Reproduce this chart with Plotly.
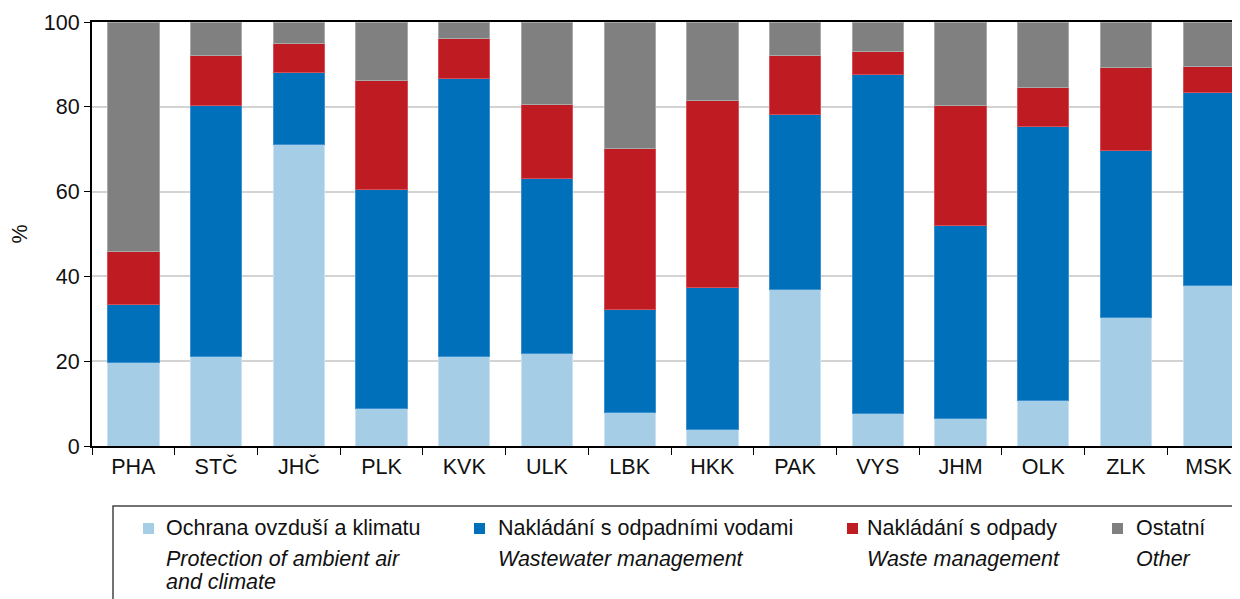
import plotly.graph_objects as go

regions = ["PHA", "STČ", "JHČ", "PLK", "KVK", "ULK", "LBK", "HKK", "PAK", "VYS", "JHM", "OLK", "ZLK", "MSK"]

# shares in %
air = [19.6, 21.1, 71.0, 8.9, 21.0, 21.8, 7.9, 3.9, 37.0, 7.7, 6.6, 10.7, 30.3, 37.9]
wastewater = [13.7, 59.3, 17.2, 51.7, 65.7, 41.3, 24.3, 33.5, 41.2, 80.0, 45.4, 64.7, 39.3, 45.5]
waste = [12.6, 11.6, 6.7, 25.7, 9.4, 17.4, 38.0, 44.0, 13.9, 5.3, 28.4, 9.1, 19.6, 6.0]
other = [54.1, 8.0, 5.1, 13.7, 3.9, 19.5, 29.8, 18.6, 7.9, 7.0, 19.6, 15.5, 10.8, 10.6]

names_cz = ["Ochrana ovzduší a klimatu", "Nakládání s odpadními vodami", "Nakládání s odpady", "Ostatní"]
names_en = [["Protection of ambient air", "and climate"], ["Wastewater management"],
            ["Waste management"], ["Other"]]
colors = ["#a6cde6", "#0070bb", "#be1b22", "#808080"]
edges = ["#c9e1f1", "#3d91d0", "#d6505a", "#a9a9a9"]

fig = go.Figure()
for vals, name, c, e in zip([air, wastewater, waste, other], names_cz, colors, edges):
    fig.add_trace(go.Bar(x=regions, y=vals, name=name, marker_color=c,
                         marker_line=dict(color=e, width=1)))

FONT = "Liberation Sans, Arial, sans-serif"
FS = 21.5
# plot area runs a little past the right edge of the window, as in the original
fig.update_layout(
    barmode="stack", bargap=0.38,
    width=1250, height=599,
    margin=dict(l=84, r=8, t=14, b=161),
    plot_bgcolor="white", paper_bgcolor="white",
    font=dict(family=FONT, size=FS, color="#111"),
    showlegend=False,
)
fig.update_yaxes(range=[0, 100], dtick=20, showgrid=True, gridcolor="#d3d3d3", gridwidth=1.5,
                 showline=True, linecolor="black", linewidth=2, ticks="outside", ticklen=6,
                 tickcolor="black", tickfont=dict(size=FS), automargin=False,
                 title=dict(text="%", font=dict(size=FS), standoff=30))
fig.update_xaxes(showline=True, linecolor="black", linewidth=2, mirror=True, automargin=False,
                 ticks="outside", tickson="boundaries", ticklen=7, tickcolor="black",
                 tickfont=dict(size=FS))

# legend box drawn by hand (two-language entries); positions in page pixels
W, X0 = 1158, 92
H, Y0 = 424, 446
def px(x):
    return (x - X0) / W
def py(y):
    return (Y0 - y) / H

fig.add_shape(type="rect", xref="paper", yref="paper", x0=px(113), x1=1.02, y0=-0.5, y1=py(506),
              line=dict(color="#444", width=1.5), fillcolor="rgba(0,0,0,0)")
sq_x = [143, 474, 847, 1112]
tx_x = [164, 496, 865, 1134]
for sx, tx, cz, en, c in zip(sq_x, tx_x, names_cz, names_en, colors):
    fig.add_shape(type="rect", xref="paper", yref="paper", x0=px(sx), x1=px(sx + 11),
                  y0=py(534), y1=py(523), fillcolor=c, line=dict(width=0))
    fig.add_annotation(xref="paper", yref="paper", x=px(tx), y=py(528), text=cz, showarrow=False,
                       xanchor="left", yanchor="middle", font=dict(size=FS))
    for k, line in enumerate(en):
        fig.add_annotation(xref="paper", yref="paper", x=px(tx), y=py(559 + 23 * k),
                           text="<i>" + line + "</i>", showarrow=False,
                           xanchor="left", yanchor="middle", font=dict(size=FS))

fig.write_html("out.html")
